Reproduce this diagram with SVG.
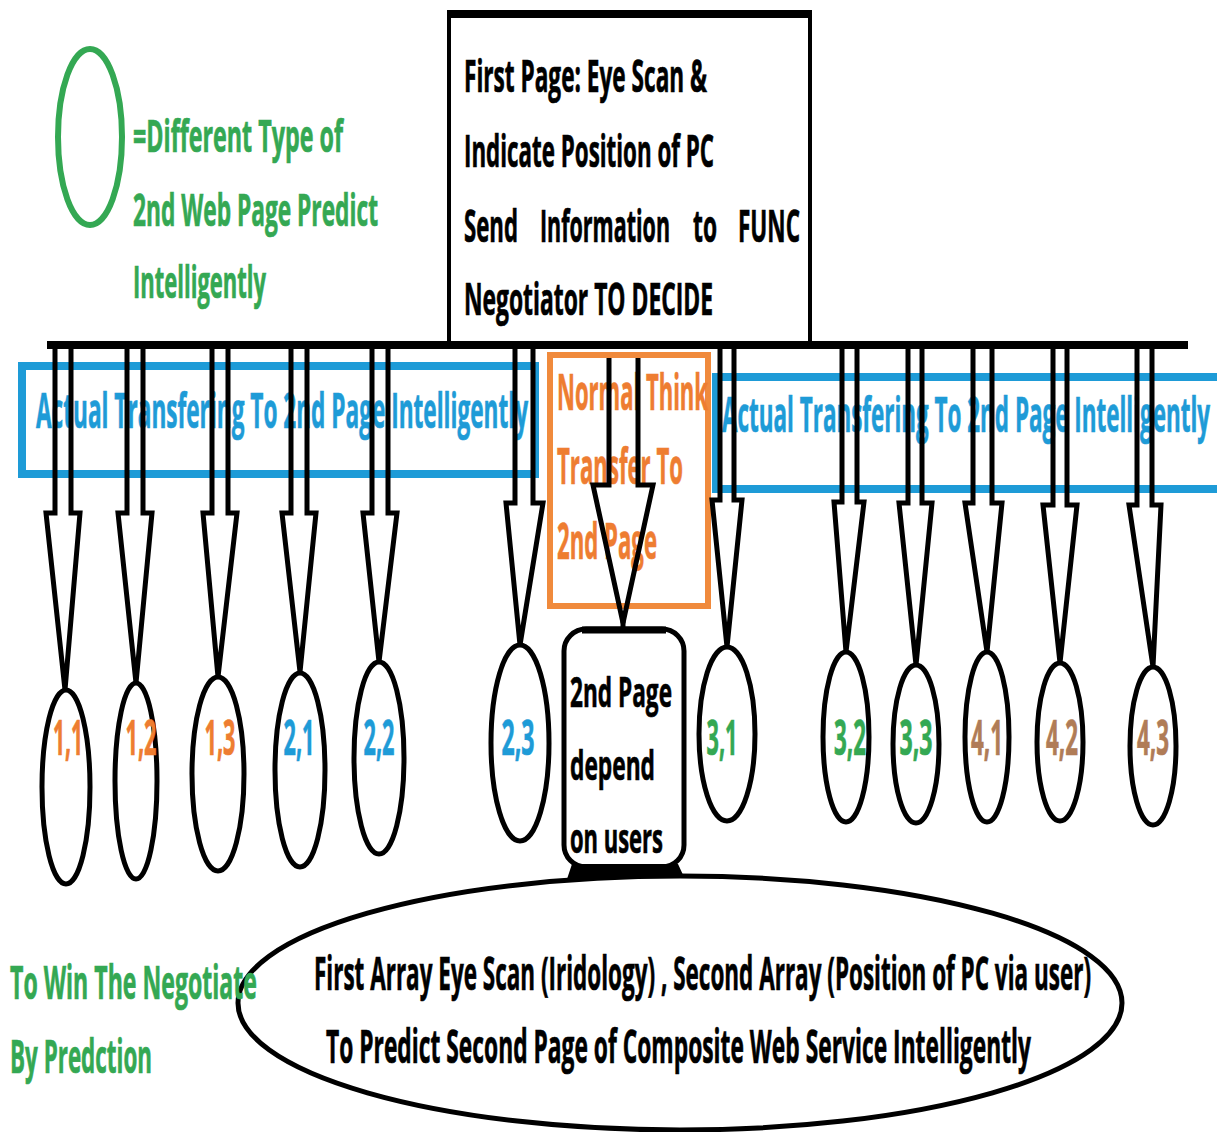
<svg xmlns="http://www.w3.org/2000/svg" width="1217" height="1132" viewBox="0 0 1217 1132">
<style>
text{font-family:"Open Sans","Liberation Sans",Arial,sans-serif;font-weight:700;stroke-width:0.7px;}
.blk{fill:#000;stroke:#000}
.grn{fill:#34a853;stroke:#34a853}
.blu{fill:#1e9bd7;stroke:#1e9bd7}
.org{fill:#ee7d31;stroke:#ee7d31}
.brn{fill:#b07c57;stroke:#b07c57}
.lbl{font-size:48px;text-anchor:middle}
.arrow{fill:none;stroke:#000;stroke-width:5;stroke-linejoin:miter}
.node{fill:none;stroke:#000;stroke-width:5}
</style>
<rect width="1217" height="1132" fill="#fff"/>

<g id="legend">
<ellipse cx="90" cy="137" rx="32" ry="88" fill="none" stroke="#34a853" stroke-width="6"/>
<text class="grn" font-size="44" x="133" y="152" textLength="210" lengthAdjust="spacingAndGlyphs">=Different Type of</text>
<text class="grn" font-size="44" x="133" y="226" textLength="245" lengthAdjust="spacingAndGlyphs">2nd Web Page Predict</text>
<text class="grn" font-size="44" x="133" y="298" textLength="133" lengthAdjust="spacingAndGlyphs">Intelligently</text>
</g>

<g id="first-page">
<path d="M449,345V14H810V345" fill="none" stroke="#000" stroke-width="4"/>
<line x1="447" y1="14" x2="812" y2="14" stroke="#000" stroke-width="8"/>
<text class="blk" font-size="44" x="464" y="92" textLength="243" lengthAdjust="spacingAndGlyphs">First Page: Eye Scan &amp;</text>
<text class="blk" font-size="44" x="464" y="167" textLength="250" lengthAdjust="spacingAndGlyphs">Indicate Position of PC</text>
<text class="blk" font-size="44" x="464" y="242" textLength="54" lengthAdjust="spacingAndGlyphs">Send</text>
<text class="blk" font-size="44" x="540" y="242" textLength="130" lengthAdjust="spacingAndGlyphs">Information</text>
<text class="blk" font-size="44" x="693" y="242" textLength="24" lengthAdjust="spacingAndGlyphs">to</text>
<text class="blk" font-size="44" x="738" y="242" textLength="62" lengthAdjust="spacingAndGlyphs">FUNC</text>
<text class="blk" font-size="44" x="464" y="315" textLength="249" lengthAdjust="spacingAndGlyphs">Negotiator TO DECIDE</text>
</g>

<g id="actual-left">
<rect x="22" y="366" width="513" height="108" fill="none" stroke="#1e9bd7" stroke-width="8"/>
<text class="blu" font-size="48" x="36" y="428" textLength="492" lengthAdjust="spacingAndGlyphs">Actual Transfering To 2nd Page Intelligently</text>
</g>

<g id="actual-right">
<rect x="716" y="377" width="540" height="112" fill="none" stroke="#1e9bd7" stroke-width="8"/>
<text class="blu" font-size="48" x="722" y="432" textLength="488" lengthAdjust="spacingAndGlyphs">Actual Transfering To 2nd Page Intelligently</text>
</g>

<g id="normal-think">
<rect x="550" y="355" width="158" height="251" fill="none" stroke="#f08a3c" stroke-width="6"/>
<text class="org" font-size="50" x="557" y="410" textLength="151" lengthAdjust="spacingAndGlyphs">Normal Think</text>
<text class="org" font-size="50" x="557" y="484" textLength="126" lengthAdjust="spacingAndGlyphs">Transfer To</text>
<text class="org" font-size="50" x="557" y="559" textLength="100" lengthAdjust="spacingAndGlyphs">2nd Page</text>
</g>

<g id="connectors">
<line x1="47" y1="345" x2="1188" y2="345" stroke="#000" stroke-width="8"/>
<path class="arrow" d="M55,349V513H46L65,690L80,513H71V349"/>
<path class="arrow" d="M127,349V513H118L136,683L152,513H143V349"/>
<path class="arrow" d="M212,349V513H203L218,677L237,513H228V349"/>
<path class="arrow" d="M291,349V513H282L300,672L316,513H307V349"/>
<path class="arrow" d="M372,349V513H363L379,662L397,513H388V349"/>
<path class="arrow" d="M515,349V503H506L520,645L543,503H533V349"/>
<path class="arrow" d="M609,358V485H593L623,623L653,485H638V358"/>
<line x1="623" y1="620" x2="623" y2="630" stroke="#000" stroke-width="5"/>
<path class="arrow" d="M720,349V500H712L727,647L742,500H734V349"/>
<path class="arrow" d="M842,349V502H834L846,652L864,502H857V349"/>
<path class="arrow" d="M908,349V503H899L916,665L932,503H922V349"/>
<path class="arrow" d="M973,349V503H965L987,652L1002,503H992V349"/>
<path class="arrow" d="M1053,349V505H1043L1060,663L1077,505H1067V349"/>
<path class="arrow" d="M1137,349V505H1129L1153,667L1161,505H1152V349"/>
</g>

<g id="n11"><ellipse class="node" cx="66" cy="787" rx="24" ry="97"/><text class="lbl org" x="68" y="755" textLength="30" lengthAdjust="spacingAndGlyphs">1,1</text></g>
<g id="n12"><ellipse class="node" cx="136" cy="781" rx="21" ry="98"/><text class="lbl org" x="141" y="755" textLength="31" lengthAdjust="spacingAndGlyphs">1,2</text></g>
<g id="n13"><ellipse class="node" cx="218" cy="774" rx="26" ry="97"/><text class="lbl org" x="220" y="755" textLength="31" lengthAdjust="spacingAndGlyphs">1,3</text></g>
<g id="n21"><ellipse class="node" cx="300" cy="770" rx="25" ry="97"/><text class="lbl blu" x="299" y="755" textLength="31" lengthAdjust="spacingAndGlyphs">2,1</text></g>
<g id="n22"><ellipse class="node" cx="379" cy="758" rx="25" ry="96"/><text class="lbl blu" x="379" y="755" textLength="31" lengthAdjust="spacingAndGlyphs">2,2</text></g>
<g id="n23"><ellipse class="node" cx="520" cy="743" rx="29" ry="98"/><text class="lbl blu" x="518" y="755" textLength="33" lengthAdjust="spacingAndGlyphs">2,3</text></g>
<g id="n31"><ellipse class="node" cx="727" cy="734" rx="28" ry="87"/><text class="lbl grn" x="722" y="755" textLength="31" lengthAdjust="spacingAndGlyphs">3,1</text></g>
<g id="n32"><ellipse class="node" cx="846" cy="737" rx="23" ry="85"/><text class="lbl grn" x="850" y="755" textLength="32" lengthAdjust="spacingAndGlyphs">3,2</text></g>
<g id="n33"><ellipse class="node" cx="916" cy="744" rx="23" ry="79"/><text class="lbl grn" x="916" y="755" textLength="33" lengthAdjust="spacingAndGlyphs">3,3</text></g>
<g id="n41"><ellipse class="node" cx="987" cy="737" rx="22" ry="85"/><text class="lbl brn" x="987" y="755" textLength="32" lengthAdjust="spacingAndGlyphs">4,1</text></g>
<g id="n42"><ellipse class="node" cx="1060" cy="742" rx="23" ry="79"/><text class="lbl brn" x="1062" y="755" textLength="32" lengthAdjust="spacingAndGlyphs">4,2</text></g>
<g id="n43"><ellipse class="node" cx="1153" cy="746" rx="23" ry="79"/><text class="lbl brn" x="1153" y="755" textLength="32" lengthAdjust="spacingAndGlyphs">4,3</text></g>

<g id="second-page">
<rect class="node" x="564" y="629" width="120" height="238" rx="22" ry="22"/>
<line x1="582" y1="630" x2="666" y2="630" stroke="#000" stroke-width="7"/>
<path d="M572,864H678L684,877Q625,873 567,879Z" fill="#000"/>
<text class="blk" font-size="42" x="570" y="707" textLength="102" lengthAdjust="spacingAndGlyphs">2nd Page</text>
<text class="blk" font-size="42" x="570" y="780" textLength="85" lengthAdjust="spacingAndGlyphs">depend</text>
<text class="blk" font-size="42" x="570" y="853" textLength="93" lengthAdjust="spacingAndGlyphs">on users</text>
</g>

<g id="array">
<ellipse class="node" cx="680" cy="1003" rx="442" ry="127"/>
<text class="blk" font-size="46" x="314" y="990" textLength="777" lengthAdjust="spacingAndGlyphs">First Array Eye Scan (Iridology) , Second Array (Position of PC via user)</text>
<text class="blk" font-size="46" x="326" y="1063" textLength="705" lengthAdjust="spacingAndGlyphs">To Predict Second Page of Composite Web Service Intelligently</text>
</g>

<g id="goal">
<text class="grn" font-size="46" x="10" y="999" textLength="247" lengthAdjust="spacingAndGlyphs">To Win The Negotiate</text>
<text class="grn" font-size="46" x="10" y="1073" textLength="142" lengthAdjust="spacingAndGlyphs">By Predction</text>
</g>
</svg>
